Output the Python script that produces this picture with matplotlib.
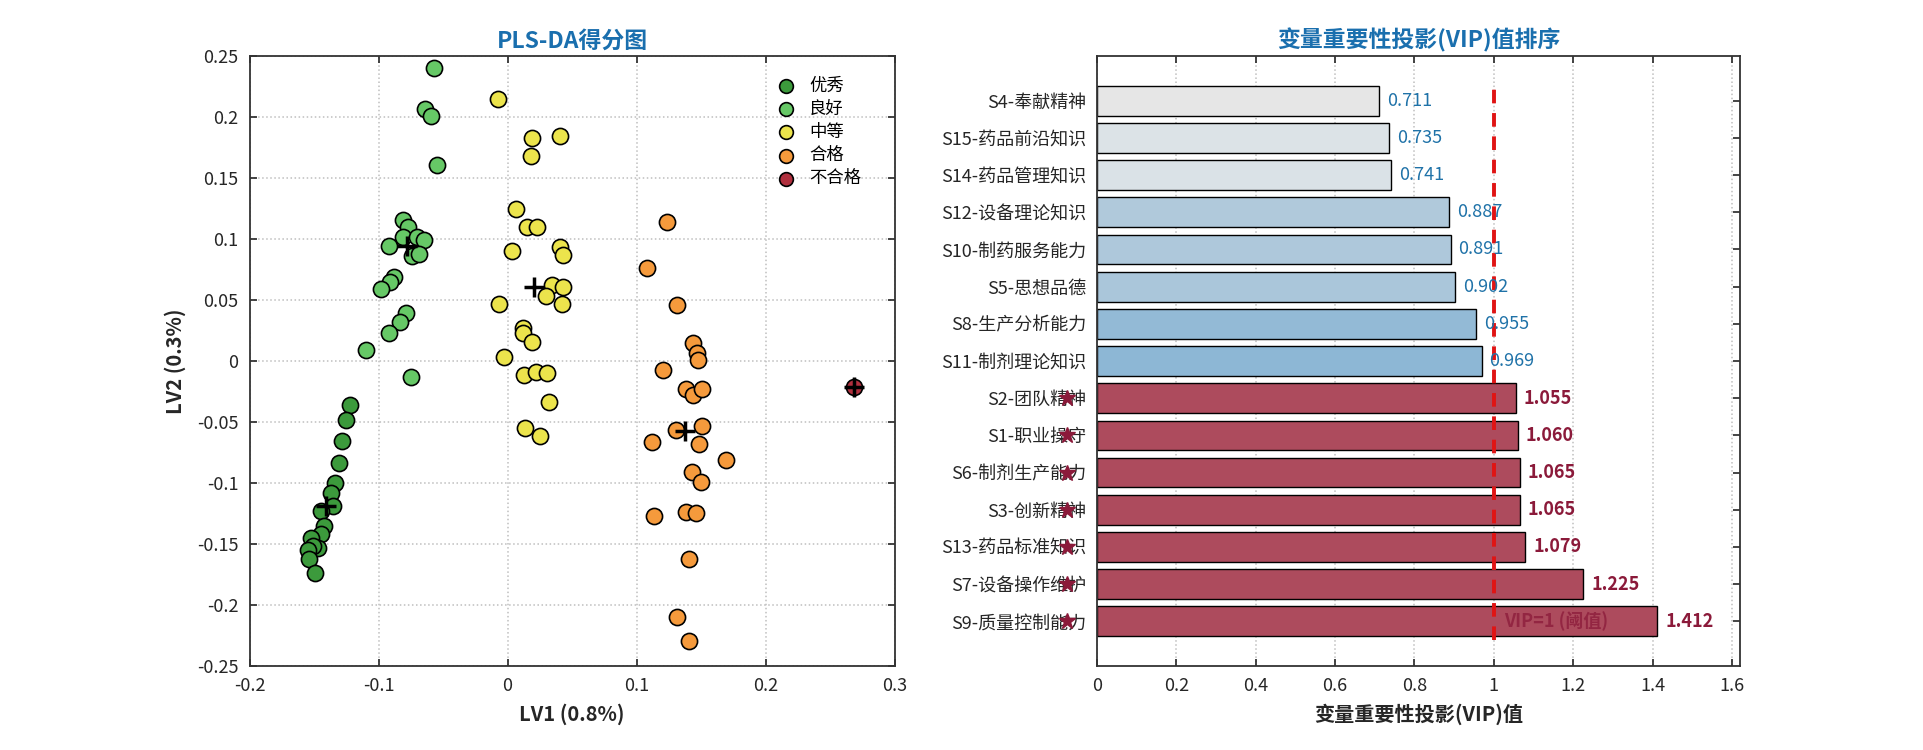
import numpy as np
import matplotlib
matplotlib.use('Agg')
import matplotlib.pyplot as plt
from matplotlib.ticker import FuncFormatter

plt.rcParams['font.family'] = ['Noto Sans CJK SC', 'DejaVu Sans']
plt.rcParams['axes.unicode_minus'] = False

# ---- PLS-DA scores ----
excellent_x = [-0.1222, -0.1256, -0.128, -0.1308, -0.134, -0.1367, -0.135, -0.145,
               -0.142, -0.145, -0.1525, -0.1473, -0.1512, -0.1546, -0.154, -0.149]
excellent_y = [-0.0363, -0.0484, -0.0656, -0.0833, -0.0997, -0.1085, -0.1186, -0.123,
               -0.135, -0.142, -0.1453, -0.153, -0.152, -0.155, -0.1626, -0.174]

good_x = [-0.0569, -0.0641, -0.0597, -0.0546, -0.081, -0.077, -0.081, -0.0705,
          -0.065, -0.0918, -0.0737, -0.0685, -0.0881, -0.091, -0.0985, -0.0788,
          -0.0835, -0.092, -0.110, -0.075]
good_y = [0.240, 0.2066, 0.201, 0.161, 0.1156, 0.110, 0.102, 0.102,
          0.099, 0.094, 0.086, 0.088, 0.069, 0.0645, 0.059, 0.039,
          0.0317, 0.0227, 0.009, -0.0134]

medium_x = [-0.0073, 0.0186, 0.0405, 0.018, 0.0062, 0.0147, 0.0225, 0.0031,
            0.0405, 0.0426, 0.0346, 0.043, 0.0294, 0.0418, -0.0067, 0.0121,
            0.0116, 0.0191, -0.0029, 0.0129, 0.022, 0.0302, 0.0323, 0.0134, 0.025]
medium_y = [0.2148, 0.1825, 0.1844, 0.168, 0.125, 0.110, 0.110, 0.0904,
            0.0937, 0.0866, 0.0623, 0.061, 0.0536, 0.0465, 0.0465, 0.0268,
            0.0232, 0.0153, 0.003, -0.0115, -0.0088, -0.0101, -0.0339, -0.0547, -0.0612]

pass_x = [0.1232, 0.1077, 0.1315, 0.1439, 0.1465, 0.1478, 0.1207, 0.138,
          0.1439, 0.1509, 0.1305, 0.1509, 0.1483, 0.1121, 0.169, 0.1431,
          0.1498, 0.1137, 0.138, 0.146, 0.1405, 0.131, 0.1405]
pass_y = [0.1137, 0.076, 0.0459, 0.0145, 0.0063, 0.0008, -0.0074, -0.023,
          -0.0279, -0.023, -0.0566, -0.053, -0.068, -0.0667, -0.0811, -0.0907,
          -0.099, -0.127, -0.1235, -0.1249, -0.1623, -0.210, -0.2295]

fail_x = [0.2685]
fail_y = [-0.021]

groups = ['优秀', '良好', '中等', '合格', '不合格']
group_x = [excellent_x, good_x, medium_x, pass_x, fail_x]
group_y = [excellent_y, good_y, medium_y, pass_y, fail_y]
group_colors = ['#3c9a3c', '#66c866', '#ece44c', '#f59a3c', '#b0303e']

# ---- VIP values (top to bottom as shown) ----
var_names = ['S4-奉献精神', 'S15-药品前沿知识', 'S14-药品管理知识', 'S12-设备理论知识',
             'S10-制药服务能力', 'S5-思想品德', 'S8-生产分析能力', 'S11-制剂理论知识',
             'S2-团队精神', 'S1-职业操守', 'S6-制剂生产能力', 'S3-创新精神',
             'S13-药品标准知识', 'S7-设备操作维护', 'S9-质量控制能力']
vip = [0.711, 0.735, 0.741, 0.887, 0.891, 0.902, 0.955, 0.969,
       1.055, 1.060, 1.065, 1.065, 1.079, 1.225, 1.412]

title_color = '#1a6fae'
tick_color = '#262626'


def fmt(v, p):
    # '%g' without a "-0"
    return '%g' % (round(v, 3) + 0.0)


def style_axes(ax):
    for sp in ax.spines.values():
        sp.set_color('#333333')
        sp.set_linewidth(1.3)
    ax.tick_params(direction='in', length=5, width=1.2, top=True, right=True,
                   labelsize=13, colors=tick_color, pad=8)


def mix(c1, c2, t):
    c1 = np.array(matplotlib.colors.to_rgb(c1))
    c2 = np.array(matplotlib.colors.to_rgb(c2))
    t = min(max(t, 0), 1)
    return tuple(c1 * (1 - t) + c2 * t)


fig = plt.figure(figsize=(19.24, 7.5), dpi=100)
ax1 = fig.add_axes([0.1297, 0.112, 0.3353, 0.8133])
ax2 = fig.add_axes([0.5702, 0.112, 0.334, 0.8133])

# ---------------- left: score plot ----------------
for name, xs, ys, c in zip(groups, group_x, group_y, group_colors):
    ax1.scatter(xs, ys, s=135, c=c, edgecolors='black', linewidths=1.2,
                label=name, zorder=3)
for xs, ys in zip(group_x, group_y):
    ax1.plot(np.mean(xs), np.mean(ys), marker='+', color='black',
             markersize=15, markeredgewidth=2.5, zorder=4)

ax1.set_xlim(-0.2, 0.3)
ax1.set_ylim(-0.25, 0.25)
ax1.set_xticks(np.arange(-0.2, 0.31, 0.1))
ax1.set_yticks(np.arange(-0.25, 0.26, 0.05))
ax1.xaxis.set_major_formatter(FuncFormatter(fmt))
ax1.yaxis.set_major_formatter(FuncFormatter(fmt))
ax1.grid(True, linestyle=':', color='#bfbfbf', linewidth=1.1)
ax1.set_axisbelow(True)
style_axes(ax1)
ax1.set_xlabel('LV1 (0.8%)', fontsize=14.5, fontweight='bold', color=tick_color, labelpad=6)
ax1.set_ylabel('LV2 (0.3%)', fontsize=14.5, fontweight='bold', color=tick_color, labelpad=8)
ax1.set_title('PLS-DA得分图', fontsize=16.5, fontweight='bold', color=title_color, pad=6)
leg = ax1.legend(loc='upper right', frameon=False, fontsize=12.5, markerscale=0.85,
                 handletextpad=0.3, labelspacing=0.3, borderaxespad=0.6,
                 bbox_to_anchor=(0.975, 0.995))

# ---------------- right: VIP bars ----------------
n = len(vip)
pos = np.arange(n, 0, -1)
bar_colors = []
for v in vip:
    if v < 0.8:
        bar_colors.append(mix('#e6e6e6', '#dae2e7', (v - 0.71) / 0.03))
    elif v < 1:
        bar_colors.append(mix('#b0c9db', '#8db7d5', (v - 0.887) / 0.082))
    else:
        bar_colors.append('#ad4b5d')
ax2.barh(pos, vip, height=0.8, color=bar_colors, edgecolor='black', linewidth=1, zorder=2)

for p, v in zip(pos, vip):
    if v > 1:
        ax2.text(v + 0.02, p, '%.3f' % v, va='center', ha='left', fontsize=13,
                 fontweight='bold', color='#8b1a3a', zorder=4)
        ax2.plot(-0.075, p, marker='*', color='#8b1a3a', markersize=12,
                 clip_on=False, zorder=5)
    else:
        ax2.text(v + 0.02, p, '%.3f' % v, va='center', ha='left', fontsize=13,
                 color='#1f72a8', zorder=4)

ax2.plot([1, 1], [0.5, n + 0.5], linestyle='--', color='#e01414', linewidth=2.8,
         dashes=(3.5, 2.5), zorder=3)
ax2.text(1.025, 1, 'VIP=1 (阈值)', va='center', ha='left', fontsize=13,
         fontweight='bold', color='#8b1a3a', alpha=0.75, zorder=4)

ax2.set_xlim(0, max(vip) * 1.147)
ax2.set_ylim(-0.2, n + 1.2)
ax2.set_xticks(np.arange(0, 1.61, 0.2))
ax2.xaxis.set_major_formatter(FuncFormatter(fmt))
ax2.set_yticks(pos)
ax2.set_yticklabels(var_names)
ax2.grid(True, axis='x', linestyle=':', color='#bfbfbf', linewidth=1.1)
ax2.set_axisbelow(True)
style_axes(ax2)
ax2.set_xlabel('变量重要性投影(VIP)值', fontsize=14.5, fontweight='bold', color=tick_color, labelpad=6)
ax2.set_title('变量重要性投影(VIP)值排序', fontsize=16.5, fontweight='bold', color=title_color, pad=6)

fig.savefig('out.png', dpi=100)
